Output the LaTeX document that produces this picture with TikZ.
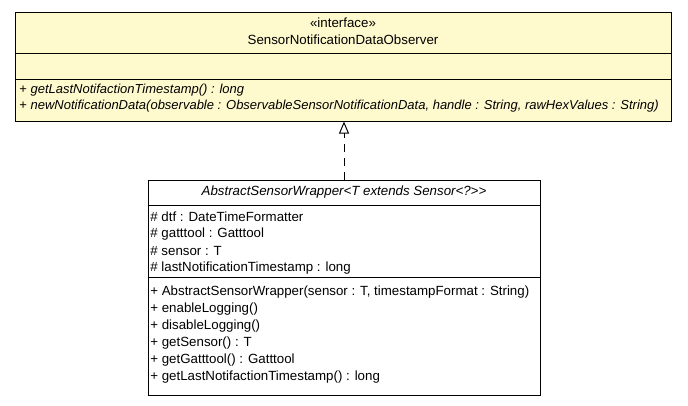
\documentclass[tikz,border=0pt]{standalone}
\usepackage{fontspec}
\setmainfont{Liberation Sans}
\usetikzlibrary{arrows.meta}
\definecolor{interfacefill}{RGB}{255,250,205}

\begin{document}
\begin{tikzpicture}[x=1pt,y=-1pt,>={Triangle[open,length=12pt,width=10pt]},thick,
    class box/.style={rectangle,draw,line width=1pt,inner sep=0pt},
    class name/.style={inner sep=0pt,font=\fontsize{13.3}{15}\selectfont},
    member line/.style={anchor=west,inner sep=0pt,font=\fontsize{13.3}{15}\selectfont},
    realizes/.style={->,line width=1pt,dash pattern=on 8pt off 6pt}]

            \useasboundingbox (0,0) rectangle (688,405);

            \node[class box,fill=interfacefill,minimum width=656pt,minimum height=109pt] (observer) at (343,66.5) {};
            \node[class box,fill=white,minimum width=392pt,minimum height=215pt] (wrapper) at (344,287.5) {};

            % compartments
            \draw[line width=1pt] (observer.west |- 0,53) -- (observer.east |- 0,53);
            \draw[line width=1pt] (observer.west |- 0,79) -- (observer.east |- 0,79);
            \draw[line width=1pt] (wrapper.west |- 0,205) -- (wrapper.east |- 0,205);
            \draw[line width=1pt] (wrapper.west |- 0,277) -- (wrapper.east |- 0,277);

            \node[class name] (stereo) at (343,23) {«interface»};
            \node[class name] (obsname) at (343,40) {SensorNotificationDataObserver};
            \node[member line,font=\fontsize{13}{15}\selectfont] (om1) at (19,90) {+ \textit{getLastNotifactionTimestamp() : long}};
            \node[member line,font=\fontsize{13}{15}\selectfont] (om2) at (19,106) {+ \textit{newNotificationData(observable : ObservableSensorNotificationData, handle : String, rawHexValues : String)}};

            \node[class name] (wrapname) at (344,192) {\textit{AbstractSensorWrapper<T extends Sensor<?>\kern0pt>}};
            \node[member line] (wa1) at (150,217) {\# dtf : DateTimeFormatter};
            \node[member line] (wa2) at (150,234) {\# gatttool : Gatttool};
            \node[member line] (wa3) at (150,251) {\# sensor : T};
            \node[member line] (wa4) at (150,268) {\# lastNotificationTimestamp : long};
            \node[member line] (wm1) at (150,292) {+ AbstractSensorWrapper(sensor : T, timestampFormat : String)};
            \node[member line] (wm2) at (150,309) {+ enableLogging()};
            \node[member line] (wm3) at (150,326) {+ disableLogging()};
            \node[member line] (wm4) at (150,343) {+ getSensor() : T};
            \node[member line] (wm5) at (150,360) {+ getGatttool() : Gatttool};
            \node[member line] (wm6) at (150,377) {+ getLastNotifactionTimestamp() : long};

            \path
                (wrapper.north) edge[realizes] (wrapper.north |- observer.south)
                ;
        \end{tikzpicture}
\end{document}
